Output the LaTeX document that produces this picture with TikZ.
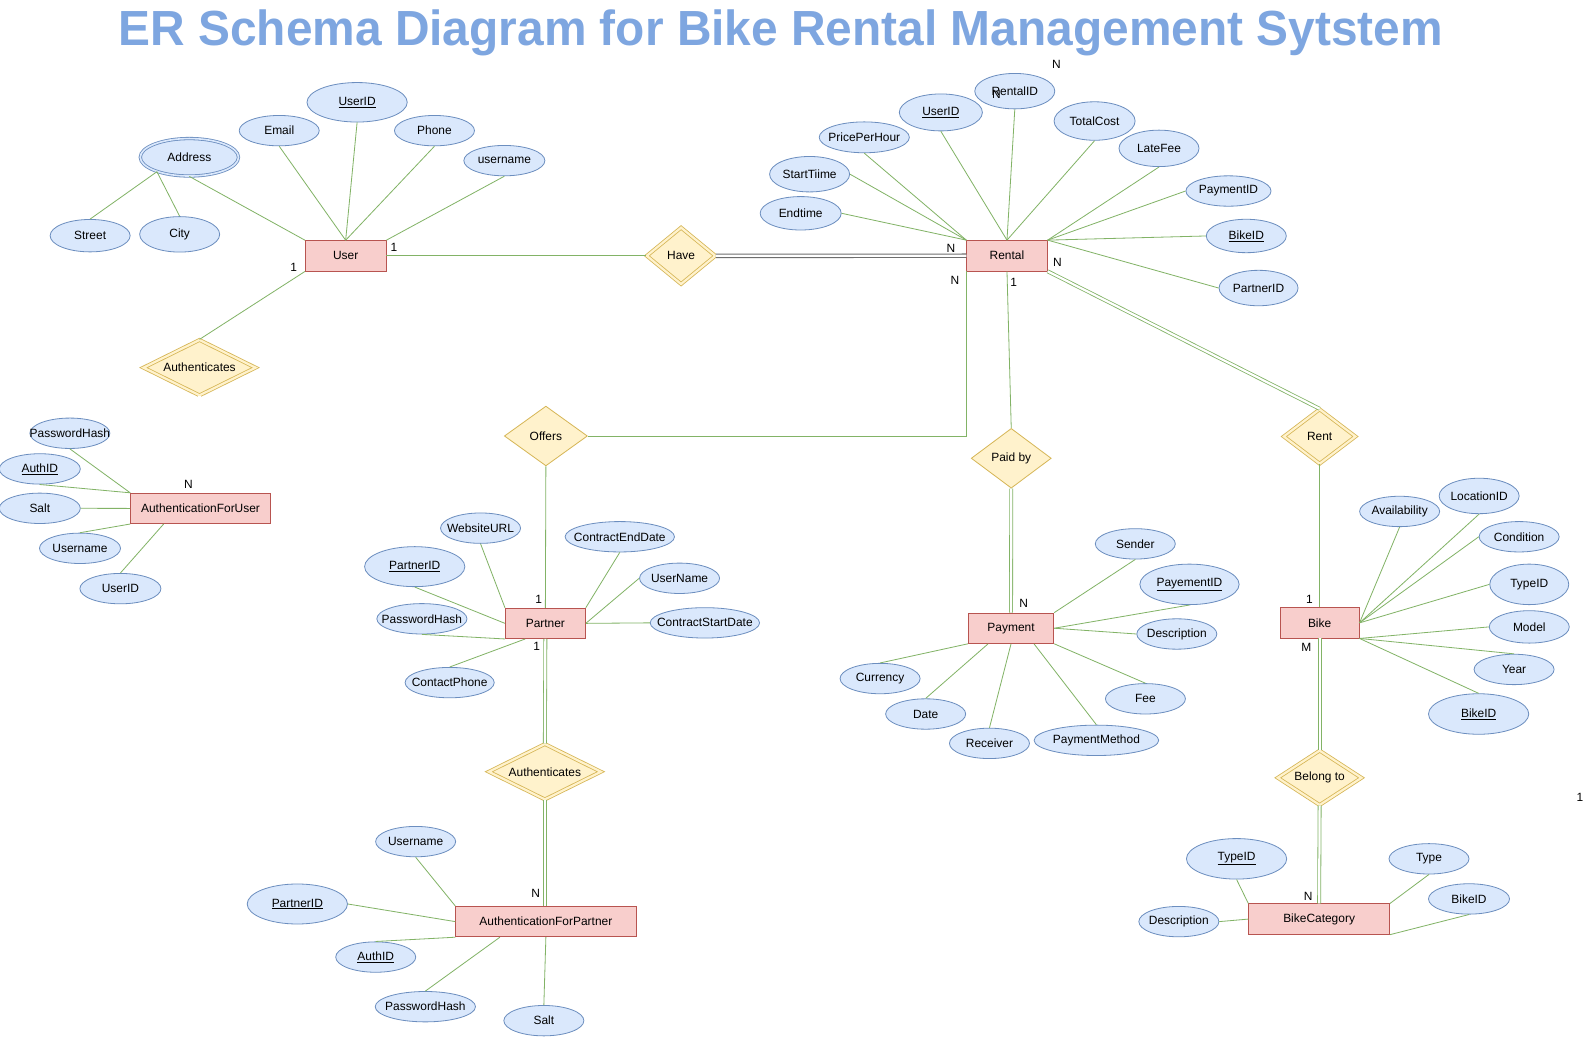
\documentclass[tikz,border=0pt]{standalone}
\usepackage{fontspec}
\setmainfont{Liberation Sans}
\usetikzlibrary{shapes.geometric}
\definecolor{attrF}{HTML}{DAE8FC}
\definecolor{attrD}{HTML}{6C8EBF}
\definecolor{entF}{HTML}{F8CECC}
\definecolor{entD}{HTML}{B85450}
\definecolor{relF}{HTML}{FFF2CC}
\definecolor{relD}{HTML}{D6B656}
\definecolor{edgeC}{HTML}{82B366}
\definecolor{titleC}{HTML}{7EA6E0}
\definecolor{grayE}{HTML}{6E6E6E}
\tikzset{
  lbl/.style={font=\fontsize{11.8}{14}\selectfont, inner sep=0pt, text=black},
  attrS/.style={ellipse, draw=attrD, fill=attrF, line width=0.8pt, inner sep=0pt},
  entS/.style={rectangle, draw=entD, fill=entF, line width=0.8pt, inner sep=0pt,
    minimum height=30pt, font=\fontsize{11.8}{14}\selectfont},
  relS/.style={diamond, aspect=2, draw=relD, fill=relF, line width=0.8pt, inner sep=0pt,
    font=\fontsize{11.8}{14}\selectfont},
  relDbl/.style={relS, double=relF, double distance=2.2pt},
  conn/.style={draw=edgeC, line width=0.8pt},
  connDbl/.style={conn, double=white, double distance=2.2pt},
  connGray/.style={draw=grayE, line width=1.1pt, double=white, double distance=2.2pt},
}
\newcommand{\myattr}[6][]{\node[attrS,#1,minimum width=#5pt,minimum height=#6pt,label={[lbl]center:#4}] (#2) at (#3) {};}
\begin{document}
\begin{tikzpicture}[x=1pt,y=-1pt]
\useasboundingbox (0,0) rectangle (1568,1023);
\fill[white] (0,0) rectangle (1568,1023);

% title
\node[anchor=base, inner sep=0pt, text=titleC] (title) at (771,45)
  {\resizebox{1308pt}{35.3pt}{\bfseries ER Schema Diagram for Bike Rental Management Sytstem}};

% entities
\node[entS, minimum width=79.5pt] (user) at (341.3,252.6) {User};
\node[entS, minimum width=79.5pt] (rental) at (994.3,252.5) {Rental};
\node[entS, minimum width=138pt] (afu) at (198,502) {AuthenticationForUser};
\node[entS, minimum width=79pt] (partner) at (538.5,615.5) {Partner};
\node[entS, minimum width=84.5pt] (payment) at (998.3,620.3) {Payment};
\node[entS, minimum width=78pt] (bike) at (1303,615) {Bike};
\node[entS, minimum width=178pt] (afp) at (539,910) {AuthenticationForPartner};
\node[entS, minimum width=139pt] (bc) at (1302.5,907.5) {BikeCategory};

% relationships
\node[relDbl, minimum width=68pt, minimum height=56pt] (have) at (672.5,252.6) {Have};
\node[relDbl, minimum width=111pt, minimum height=55pt] (auth1) at (197,363) {Authenticates};
\node[relS, minimum width=82pt, minimum height=59pt] (offers) at (539,430.5) {Offers};
\node[relS, minimum width=79pt, minimum height=59pt] (paidby) at (998.5,452.5) {Paid by};
\node[relDbl, minimum width=71pt, minimum height=54pt] (rent) at (1303,431) {Rent};
\node[relDbl, minimum width=111pt, minimum height=55pt] (auth2) at (538,762) {Authenticates};
\node[relDbl, minimum width=83pt, minimum height=54pt] (belong) at (1303,768) {Belong to};

% user attributes
\myattr{uId}{352.6,101}{\underline{UserID}}{99}{39}
\myattr{uEmail}{275.7,129}{Email}{79}{30}
\myattr{uPhone}{429,129}{Phone}{79}{30}
\myattr{uName}{498,158.6}{username}{80}{30}
\myattr[double=attrF, double distance=1.6pt]{uAddr}{187,155.3}{Address}{97}{37}
\myattr{uStreet}{89,232.7}{Street}{79}{32}
\myattr{uCity}{177.4,231.4}{City}{79}{35}

% rental attributes
\myattr{rId}{1002,90}{RentalID}{79}{35}
\myattr{rUid}{929,111}{\underline{UserID}}{82}{36.5}
\myattr{rPph}{853.4,135.6}{PricePerHour}{89}{30.5}
\myattr{rStart}{799.4,172}{StartTiime}{79}{35}
\myattr{rEnd}{790.6,210.6}{Endtime}{80}{33}
\myattr{rTc}{1080.8,119.5}{TotalCost}{80}{38}
\myattr{rLate}{1144.4,146.5}{LateFee}{79}{36}
\myattr{rPid}{1213,188.6}{PaymentID}{84}{30}
\myattr{rBid}{1230.6,233}{\underline{BikeID}}{79}{33}
\myattr{rPtid}{1242.7,284.4}{PartnerID}{78}{35}

% authentication for user attributes
\myattr{aPwd}{69,427.8}{PasswordHash}{79}{30}
\myattr{aAid}{39.3,463}{\underline{AuthID}}{80}{30}
\myattr{aSalt}{39.3,501.9}{Salt}{80}{30}
\myattr{aUn}{79,541.4}{Username}{80}{30}
\myattr{aUid}{118.9,581.2}{UserID}{80}{30}

% partner attributes
\myattr{pWeb}{474.5,521.5}{WebsiteURL}{79}{30}
\myattr{pPid}{409.5,559.5}{\underline{PartnerID}}{99}{39.5}
\myattr{pPwd}{416.6,611}{PasswordHash}{89}{30}
\myattr{pPhone}{444,674}{ContactPhone}{88}{30}
\myattr{pCed}{612,530}{ContractEndDate}{108}{30}
\myattr{pUn}{671,571}{UserName}{79}{30}
\myattr{pCsd}{696,615}{ContractStartDate}{108}{30}

% payment attributes
\myattr{ySender}{1121,537}{Sender}{79}{30}
\myattr{yId}{1174.5,577}{\underline{PayementID}}{98}{40}
\myattr{yDesc}{1162,626}{Description}{79}{30}
\myattr{yFee}{1131,690}{Fee}{79}{30}
\myattr{yMethod}{1082.6,731}{PaymentMethod}{123}{30}
\myattr{yRecv}{977,734}{Receiver}{79}{30}
\myattr{yDate}{914,705}{Date}{79}{30}
\myattr{yCur}{869,670}{Currency}{79}{30}

% bike attributes
\myattr{bAvail}{1382,505}{Availability}{79}{30}
\myattr{bLoc}{1460.5,489.7}{LocationID}{79}{35}
\myattr{bCond}{1500,530}{Condition}{79}{30}
\myattr{bType}{1510,577}{TypeID}{78}{40}
\myattr{bModel}{1510,619}{Model}{79}{32}
\myattr{bYear}{1495,661}{Year}{79}{30}
\myattr{bBid}{1460,705}{\underline{BikeID}}{99}{40}

% authentication for partner attributes
\myattr{fUn}{410.4,831}{Username}{79}{30}
\myattr{fPid}{293.6,892.6}{\underline{PartnerID}}{99}{39.5}
\myattr{fAid}{371,945}{\underline{AuthID}}{79}{30}
\myattr{fPwd}{420,994}{PasswordHash}{99}{30}
\myattr{fSalt}{537,1007.8}{Salt}{79}{30}

% bike category attributes
\myattr{cTid}{1221,848}{\underline{TypeID}}{99}{40}
\myattr{cDesc}{1164,910}{Description}{79}{30}
\myattr{cType}{1411,848}{Type}{79}{30}
\myattr{cBid}{1450.5,887.6}{BikeID}{80}{30}

% ---- connectors: user
\draw[conn] (uAddr.south) -- (user.north west);
\draw[conn] (uAddr.204) -- (uStreet.north);
\draw[conn] (uAddr.204) -- (uCity.north);
\draw[conn] (uEmail.south) -- (user.north);
\draw[conn] (uId.south) -- (user.north);
\draw[conn] (uPhone.south) -- (user.north);
\draw[conn] (uName.south) -- (user.north east);
\draw[conn] (user.east) -- (have.west);
\draw[conn] (user.south west) -- (auth1.north);
\draw[connDbl] (auth1.south) -- (auth1.south |- afu.north);

% rental
\draw[conn] (rEnd.east) -- (rental.north west);
\draw[conn] (rStart.east) -- (rental.north west);
\draw[conn] (rPph.south) -- (rental.north west);
\draw[conn] (rUid.south) -- (rental.north);
\draw[conn] (rId.south) -- (rental.north);
\draw[conn] (rTc.south) -- (rental.north);
\draw[conn] (rLate.south) -- (rental.north east);
\draw[conn] (rPid.west) -- (rental.north east);
\draw[conn] (rBid.west) -- (rental.north east);
\draw[conn] (rPtid.west) -- (rental.north east);
\draw[connGray] (have.east) -- (rental.west);
\draw[conn] (rental.south west) -- (rental.south west |- offers.east) -- (offers.east);
\draw[conn] (rental.south) -- (paidby.north);
\draw[connDbl] (rental.south east) -- (rent.north);
\draw[conn] (rent.south) -- (bike.north);
\draw[connDbl] (bike.south) -- (belong.north);
\draw[connDbl] (belong.south) -- (bc.north);
\draw[conn] (offers.south) -- (partner.north);
\draw[connDbl] (partner.south) -- (auth2.north);
\draw[connDbl] (auth2.south) -- (auth2.south |- afp.north);
\draw[connDbl] (paidby.south) -- (payment.north);

% afu
\draw[conn] (aPwd.south) -- (afu.north west);
\draw[conn] (aAid.south) -- (afu.north west);
\draw[conn] (aSalt.east) -- (afu.west);
\draw[conn] (aUn.north) -- (afu.south west);
\draw[conn] (aUid.north) -- ([xshift=33pt]afu.south west);

% partner
\draw[conn] (pWeb.south) -- (partner.north west);
\draw[conn] (pPid.south) -- (partner.west);
\draw[conn] (pPwd.south) -- (partner.south west);
\draw[conn] (pPhone.north) -- ([xshift=20pt]partner.south west);
\draw[conn] (pCed.south) -- (partner.north east);
\draw[conn] (pUn.west) -- (partner.east);
\draw[conn] (pCsd.west) -- (partner.east);

% payment
\draw[conn] (ySender.south) -- (payment.north east);
\draw[conn] (yId.south) -- (payment.east);
\draw[conn] (yDesc.west) -- (payment.east);
\draw[conn] (yFee.north) -- (payment.south east);
\draw[conn] (yMethod.north) -- ([xshift=-20pt]payment.south east);
\draw[conn] (yRecv.north) -- (payment.south);
\draw[conn] (yDate.north) -- ([xshift=20pt]payment.south west);
\draw[conn] (yCur.north) -- (payment.south west);

% bike
\draw[conn] (bAvail.south) -- (bike.east);
\draw[conn] (bLoc.south) -- (bike.east);
\draw[conn] (bCond.west) -- (bike.east);
\draw[conn] (bType.west) -- (bike.east);
\draw[conn] (bModel.west) -- (bike.south east);
\draw[conn] (bYear.north) -- (bike.south east);
\draw[conn] (bBid.north) -- (bike.south east);

% afp
\draw[conn] (fUn.south) -- (afp.north west);
\draw[conn] (fPid.east) -- (afp.west);
\draw[conn] (fAid.north) -- (afp.south west);
\draw[conn] (fPwd.north) -- ([xshift=44pt]afp.south west);
\draw[conn] (fSalt.north) -- (afp.south);

% bike category
\draw[conn] (cTid.south) -- (bc.north west);
\draw[conn] (cDesc.east) -- (bc.west);
\draw[conn] (cType.south) -- (bc.north east);
\draw[conn] (cBid.south) -- (bc.south east);

% cardinalities
\node[lbl] (k1) at (389,244.6) {1};
\node[lbl] (k2) at (290,264) {1};
\node[lbl] (k3) at (939,245) {N};
\node[lbl] (k4) at (943,277) {N};
\node[lbl] (k5) at (1001,279) {1};
\node[lbl] (k6) at (1044,259) {N};
\node[lbl] (k7) at (186,478) {N};
\node[lbl] (k8) at (532,592) {1};
\node[lbl] (k9) at (530,638) {1};
\node[lbl] (k10) at (1010.7,596) {N};
\node[lbl] (k11) at (1293,592) {1};
\node[lbl] (k12) at (1290,639.5) {M};
\node[lbl] (k13) at (529,882.5) {N};
\node[lbl] (k14) at (1291.6,884.7) {N};
% stray labels
\node[lbl] (s1) at (1043,64) {N};
\node[lbl] (s2) at (984,93) {N};
\node[lbl] (s3) at (1560,787) {1};
\end{tikzpicture}
\end{document}
